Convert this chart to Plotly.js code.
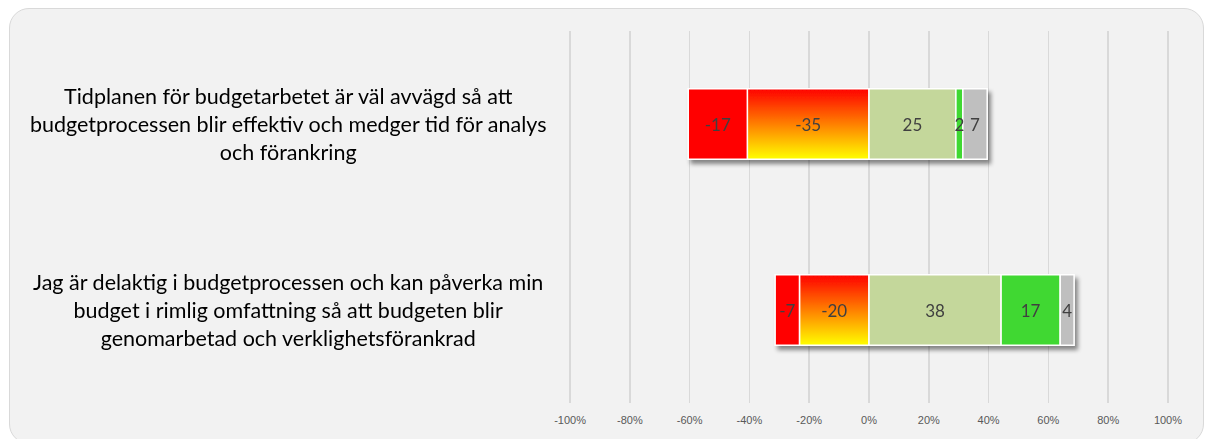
<!DOCTYPE html>
<html>
<head>
<meta charset="utf-8">
<script src="https://cdn.plot.ly/plotly-3.0.1.min.js"></script>
<style>
  html, body { margin: 0; padding: 0; background: #ffffff; }
  #frame {
    position: absolute; left: 9px; top: 8px; width: 1195px; height: 436px;
    background: #f2f2f2; border: 1px solid #d9d9d9; border-radius: 20px; box-sizing: border-box;
  }
  #chart { position: absolute; left: 0; top: 0; width: 1208px; height: 439px; }
</style>
</head>
<body>
<div id="frame"></div>
<div id="chart"></div>
<script>
// Categories (top to bottom)
const categories = [
  "Tidplanen för budgetarbetet är väl avvägd så att<br>budgetprocessen blir effektiv och medger tid för analys<br>och förankring",
  "Jag är delaktig i budgetprocessen och kan påverka min<br>budget i rimlig omfattning så att budgeten blir<br>genomarbetad och verklighetsförankrad"
];
// Response counts per category
const stronglyDisagree = [17, 7];   // red
const disagree        = [35, 20];   // red-yellow gradient
const agree           = [25, 38];   // light green
const stronglyAgree   = [2, 17];    // green
const dontKnow        = [7, 4];     // grey
const tickVals = [-100, -80, -60, -40, -20, 0, 20, 40, 60, 80, 100];
const tickText = ["-100%", "-80%", "-60%", "-40%", "-20%", "0%", "20%", "40%", "60%", "80%", "100%"];

const totals = categories.map((_, i) =>
  stronglyDisagree[i] + disagree[i] + agree[i] + stronglyAgree[i] + dontKnow[i]);
const pct = (arr, sign) => arr.map((v, i) => sign * v / totals[i] * 100);
const ids = categories.map((_, i) => i);

function mk(name, arr, sign, color) {
  return {
    type: 'bar', orientation: 'h', name: name,
    y: ids, x: pct(arr, sign),
    text: arr.map(v => String(sign * v)),
    textposition: 'inside', insidetextanchor: 'middle', constraintext: 'none', textangle: 0,
    textfont: { family: 'Lato, "Open Sans", sans-serif', size: 17, color: '#404040' },
    marker: { color: color, line: { color: '#ffffff', width: 1.5 } },
    width: 0.38, hoverinfo: 'skip', cliponaxis: false
  };
}

const data = [
  mk('Disagree', disagree, -1, '#ff8000'),
  mk('Strongly disagree', stronglyDisagree, -1, '#ff0000'),
  mk('Agree', agree, 1, '#c4d79b'),
  mk('Strongly agree', stronglyAgree, 1, '#40d830'),
  mk('Don\'t know', dontKnow, 1, '#bfbfbf')
];

const annotations = categories.map((c, i) => ({
  xref: 'paper', yref: 'y', x: -0.468, y: i, text: c, showarrow: false,
  xanchor: 'center', yanchor: 'middle', align: 'center',
  font: { family: 'Lato, "Open Sans", sans-serif', size: 21.5, color: '#000000' }
}));

const layout = {
  width: 1208, height: 439,
  margin: { l: 569, r: 39, t: 31, b: 36 },
  paper_bgcolor: 'rgba(0,0,0,0)', plot_bgcolor: 'rgba(0,0,0,0)',
  barmode: 'relative', showlegend: false,
  xaxis: {
    range: [-100.35, 100.35], tickvals: tickVals, ticktext: tickText,
    showgrid: true, gridcolor: '#d9d9d9', gridwidth: 1.5, zeroline: false,
    showline: false, ticks: '', ticklabelstandoff: 9, fixedrange: true,
    tickfont: { family: '"Liberation Sans", sans-serif', size: 11, color: '#595959' }
  },
  yaxis: {
    range: [1.5, -0.5], showticklabels: false, showgrid: false, zeroline: false,
    ticks: '', fixedrange: true
  },
  annotations: annotations
};

Plotly.newPlot('chart', data, layout, { displayModeBar: false, staticPlot: true }).then(gd => {
  const svg = gd.querySelector('svg.main-svg');
  const NS = 'http://www.w3.org/2000/svg';
  let defs = svg.querySelector('defs');
  if (!defs) { defs = document.createElementNS(NS, 'defs'); svg.insertBefore(defs, svg.firstChild); }
  const grad = document.createElementNS(NS, 'linearGradient');
  grad.setAttribute('id', 'orangeGrad');
  grad.setAttribute('x1', '0'); grad.setAttribute('y1', '0');
  grad.setAttribute('x2', '0'); grad.setAttribute('y2', '1');
  [['0', '#ff0000'], ['1', '#ffff00']].forEach(([o, c]) => {
    const s = document.createElementNS(NS, 'stop');
    s.setAttribute('offset', o); s.setAttribute('stop-color', c);
    grad.appendChild(s);
  });
  defs.appendChild(grad);
  const filt = document.createElementNS(NS, 'filter');
  filt.setAttribute('id', 'barShadow');
  filt.setAttribute('x', '-10%'); filt.setAttribute('y', '-20%');
  filt.setAttribute('width', '130%'); filt.setAttribute('height', '160%');
  const ds = document.createElementNS(NS, 'feDropShadow');
  ds.setAttribute('dx', '3'); ds.setAttribute('dy', '4'); ds.setAttribute('stdDeviation', '2');
  ds.setAttribute('flood-color', '#000000'); ds.setAttribute('flood-opacity', '0.45');
  filt.appendChild(ds);
  defs.appendChild(filt);

  const traces = gd.querySelectorAll('.barlayer .trace');
  if (traces[0]) traces[0].querySelectorAll('path').forEach(p => { p.style.fill = 'url(#orangeGrad)'; });
  const layer = gd.querySelector('.barlayer');
  if (layer) {
    // move the value labels into their own top group so they are not shadowed or covered
    const textGroup = document.createElementNS(NS, 'g');
    layer.querySelectorAll('text').forEach(t => textGroup.appendChild(t));
    const shapesGroup = document.createElementNS(NS, 'g');
    shapesGroup.setAttribute('filter', 'url(#barShadow)');
    Array.from(layer.children).forEach(ch => shapesGroup.appendChild(ch));
    layer.appendChild(shapesGroup);
    layer.appendChild(textGroup);
  }
});
</script>
</body>
</html>
